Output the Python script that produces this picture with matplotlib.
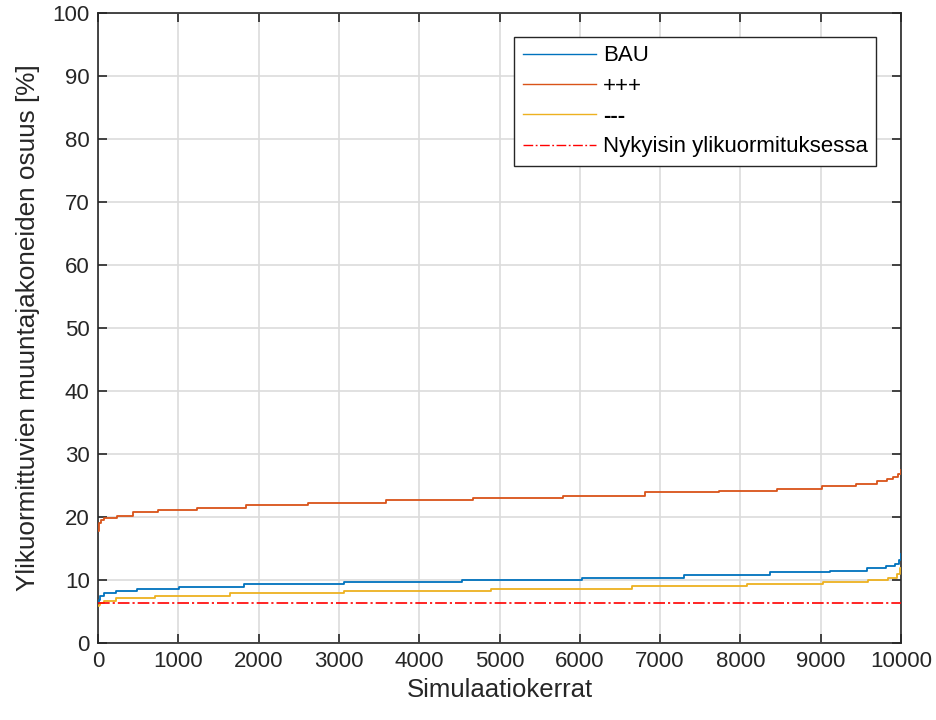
import matplotlib
matplotlib.use("Agg")
import matplotlib.pyplot as plt

# Sorted simulation outcomes (step breakpoints: run index where the value changes)
bau_x = [0, 12, 25, 79, 220, 481, 1009, 1818, 3067, 4537, 6023, 7301, 8369, 9116, 9581, 9810, 9925, 9979, 9995, 10000]
bau_y = [6.5, 6.8, 7.5, 7.9, 8.25, 8.5, 8.9, 9.4, 9.65, 10.05, 10.4, 10.85, 11.2, 11.5, 11.95, 12.3, 12.6, 13.2, 14.1, 14.1]

plus_x = [0, 12, 40, 79, 232, 440, 743, 1228, 1839, 2619, 3582, 4674, 5787, 6812, 7733, 8452, 9020, 9440, 9697, 9822, 9904, 9966, 9996, 10000]
plus_y = [17.8, 19.0, 19.5, 19.8, 20.2, 20.8, 21.1, 21.5, 21.9, 22.3, 22.7, 23.0, 23.4, 23.9, 24.2, 24.5, 25.0, 25.3, 25.7, 26.1, 26.4, 26.9, 27.5, 27.5]

minus_x = [0, 12, 25, 79, 228, 710, 1644, 3067, 4890, 6646, 8086, 9033, 9593, 9842, 9954, 9988, 10000]
minus_y = [5.8, 6.1, 6.4, 6.7, 7.1, 7.5, 7.9, 8.3, 8.6, 9.0, 9.4, 9.7, 10.05, 10.4, 10.95, 11.85, 11.85]

current_level = 6.4
x_range = [0, 10000]

labels = ["BAU", "+++", "---", "Nykyisin ylikuormituksessa"]
x_ticks = list(range(0, 10001, 1000))
y_ticks = list(range(0, 101, 10))

plt.rcParams["font.family"] = ["Liberation Sans", "DejaVu Sans"]

fig = plt.figure(figsize=(9.37, 7.2), dpi=100)
ax = fig.add_axes([0.1046, 0.1069, 0.857, 0.875])

axis_col = "#262626"
ax.grid(True, color="#dcdcdc", linewidth=1.2, zorder=0)
ax.set_axisbelow(True)

ax.step(bau_x, bau_y, where="post", color="#0072BD", lw=1.3, label=labels[0], zorder=3)
ax.step(plus_x, plus_y, where="post", color="#D95319", lw=1.3, label=labels[1], zorder=3)
ax.step(minus_x, minus_y, where="post", color="#EDB120", lw=1.3, label=labels[2], zorder=3)
ax.plot(x_range, [current_level, current_level], color="#FF0000", lw=1.2,
        linestyle=(0, (7, 1.8, 1.3, 1.8)), label=labels[3], zorder=3)

ax.set_xlim(0, 10000)
ax.set_ylim(0, 100)
ax.set_xticks(x_ticks)
ax.set_yticks(y_ticks)
ax.tick_params(direction="in", length=6.5, width=1.2, colors=axis_col,
               labelsize=16, top=True, right=True, pad=6)
ax.tick_params(labelcolor="#262626")
for s in ax.spines.values():
    s.set_color(axis_col)
    s.set_linewidth(1.2)

ax.set_xlabel("Simulaatiokerrat", fontsize=18.5, color="#262626", labelpad=4)
ax.set_ylabel("Ylikuormittuvien muuntajakoneiden osuus [%]", fontsize=18.8,
              color="#262626", labelpad=9)

leg = ax.legend(loc="upper right", bbox_to_anchor=(0.969, 0.962), borderaxespad=0,
                fontsize=16, handlelength=3.3, handletextpad=0.3, borderpad=0.38,
                labelspacing=0.42, fancybox=False, framealpha=1, edgecolor=axis_col)
leg.get_frame().set_linewidth(1.0)
for h in leg.get_lines():
    h.set_linewidth(1.0)
leg.get_texts()[2].set_fontweight("bold")

fig.savefig("out.png", dpi=100)
